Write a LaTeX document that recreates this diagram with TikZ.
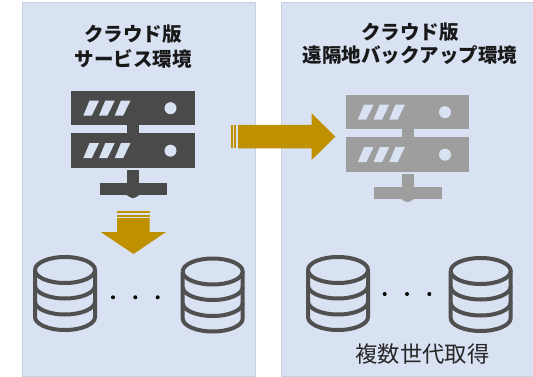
\documentclass[tikz,border=0pt]{standalone}
\usepackage{fontspec}
\setmainfont{Noto Sans CJK JP}
\definecolor{panelblue}{HTML}{D9E2F3}
\definecolor{paneledge}{HTML}{C8D0DC}
\definecolor{gold}{HTML}{BF9000}
\definecolor{srvdark}{HTML}{4A4A4A}
\definecolor{srvlight}{HTML}{9E9E9E}
\definecolor{cyl}{HTML}{505050}
\tikzset{
  panel/.style={fill=panelblue,draw=paneledge,line width=0.8pt},
  headtext/.style={align=center,font=\bfseries\fontsize{19.5}{23.5}\selectfont,text=black!90,inner sep=0pt},
  gentext/.style={font=\fontsize{22.3}{26}\selectfont,text=black!85,inner sep=0pt},
  gdot/.style={circle,fill=black,minimum size=4pt,inner sep=0pt},
  cylline/.style={draw=cyl,line width=4pt,line join=round},
  arrowfill/.style={fill=gold,draw=none},
  pics/server/.style={code={
    \fill[#1] (0,0) rectangle (123.5,34.5);
    \fill[#1] (0,42.5) rectangle (123.5,77);
    \fill[#1] (56,34) rectangle (68,43);
    \fill[#1] (56,79.5) rectangle (68,100);
    \fill[#1] (28.5,92) rectangle (96,104);
    \fill[#1] (54,103) .. controls (58,106) and (60,107.5) .. (62,107.5) .. controls (64,107.5) and (66,106) .. (70,103) -- cycle;
    \foreach \r in {0,42.5}{
      \fill[panelblue] (99.5,17.5+\r) circle (6);
      \foreach \s in {0,15.7,31.4}{
        \fill[panelblue] (12.3+\s,25+\r) -- (20.7+\s,25+\r) -- (28+\s,10+\r) -- (18.5+\s,10+\r) -- cycle;
      }
    }
  }},
  pics/drum/.style={code={
    \draw[cylline] (0,13) arc[start angle=180,end angle=540,x radius=30,y radius=13];
    \draw[cylline] (0,13) -- (0,60) arc[start angle=180,end angle=0,x radius=30,y radius=13] -- (60,13);
    \draw[cylline] (0,28.5) arc[start angle=180,end angle=0,x radius=30,y radius=13];
    \draw[cylline] (0,44.5) arc[start angle=180,end angle=0,x radius=30,y radius=13];
  }}
}
\begin{document}
\begin{tikzpicture}[x=1pt,y=-1pt]
\useasboundingbox (0,0) rectangle (533,377);
\fill[white] (0,0) rectangle (533,377);
\path[panel] (22.5,2) rectangle (255.5,376);
\path[panel] (281.5,2) rectangle (540,376);

\node[headtext,font=\bfseries\fontsize{19.5}{25}\selectfont] (lefttitle) at (133,46.5) {クラウド版\\サービス環境};
\node[headtext] (righttitle) at (410,43.5) {クラウド版\\遠隔地バックアップ環境};
\node[gentext] (gen) at (422.5,354) {複数世代取得};

\pic at (71,90.7) {server=srvdark};
\pic at (345.5,94.7) {server=srvlight};

% right arrow
\fill[arrowfill] (231,125) rectangle (233,148.3);
\fill[arrowfill] (234.3,125) rectangle (236.3,148.3);
\fill[arrowfill] (238,125) -- (311.7,125) -- (311.7,113.3) -- (335.3,136.7) -- (311.7,160) -- (311.7,148.3) -- (238,148.3) -- cycle;
% down arrow
\fill[arrowfill] (117,211) rectangle (149.7,213);
\fill[arrowfill] (117,214.5) rectangle (149.7,216.5);
\fill[arrowfill] (117,218) -- (149.7,218) -- (149.7,232) -- (166,232) -- (133.5,254) -- (100.7,232) -- (117,232) -- cycle;

\pic at (35,257) {drum};
\pic at (182.7,258.5) {drum};
\pic at (308,257) {drum};
\pic at (450.7,258) {drum};

\node[gdot] (d1) at (113,297.3) {};
\node[gdot] (d2) at (135.3,297.3) {};
\node[gdot] (d3) at (157.7,297.3) {};
\node[gdot] (d4) at (384.7,294) {};
\node[gdot] (d5) at (407,294) {};
\node[gdot] (d6) at (429.3,294) {};
\end{tikzpicture}
\end{document}
